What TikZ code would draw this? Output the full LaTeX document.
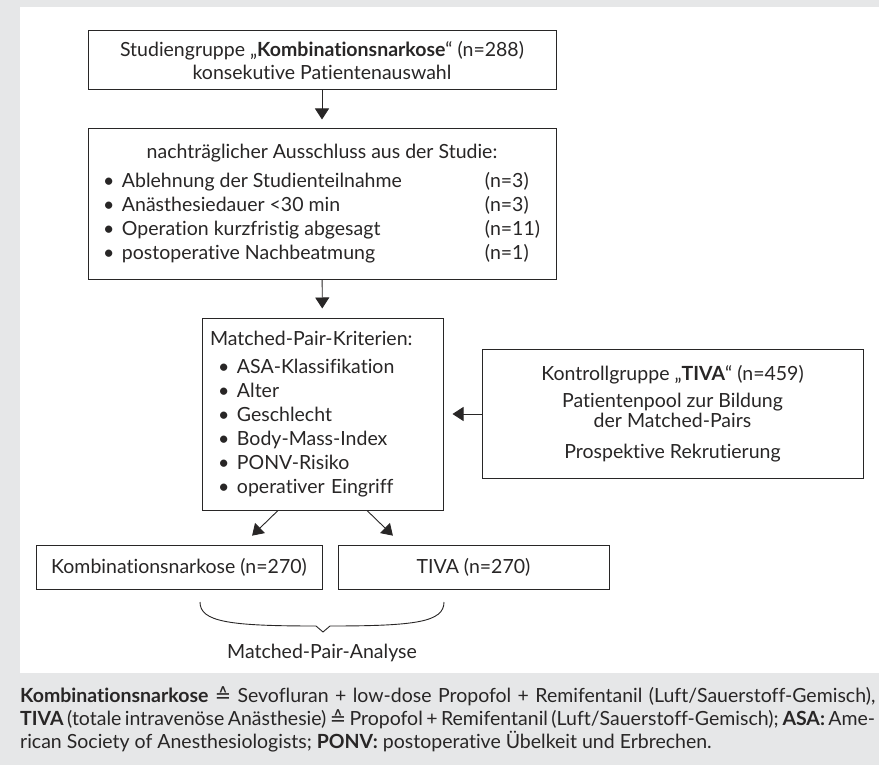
\documentclass[tikz,border=0pt]{standalone}
\usepackage{fontspec}
\setmainfont{Lato}[Ligatures={NoCommon,NoDiscretionary}]
\newfontfamily\symfont{DejaVu Sans}
\usetikzlibrary{arrows.meta}

\definecolor{panelgray}{RGB}{230,231,232}
\definecolor{inkgray}{RGB}{40,38,38}

% bullet with fixed width, list lines of fixed width
\newcommand{\bul}{\makebox[19pt][l]{\textbullet}}
\newcommand{\ausitem}[2]{\makebox[438pt][l]{\bul\makebox[363pt][l]{#1}#2}}

\begin{document}
\begin{tikzpicture}
[
    x=1pt, y=-1pt,
    font=\fontsize{19.5}{24}\selectfont,
    every node/.style={text=inkgray},
    box/.style={draw=inkgray, line width=1pt, inner sep=0pt},
    arr/.style={draw=inkgray, line width=0.9pt, -{Triangle[length=11pt,width=14pt]}, shorten >=9pt},
]
\useasboundingbox (0,0) rectangle (879,765);
\fill[panelgray] (0,0) rectangle (879,765);
\fill[white] (20,7) rectangle (879,673);

% boxes
\node[box, minimum width=468pt, minimum height=59pt, align=center] (studie) at (322,60.5)
    {Studiengruppe „\textbf{Kombinationsnarkose}“ (n=288)\\[-1pt]konsekutive Patientenauswahl};
\node[box, minimum width=468pt, minimum height=150pt, align=center] (ausschluss) at (322,204)
    {nachträglicher Ausschluss aus der Studie:\\[5pt]
     \ausitem{Ablehnung der Studienteilnahme}{(n=3)}\\
     \ausitem{Anästhesiedauer <30 min}{(n=3)}\\
     \ausitem{Operation kurzfristig abgesagt}{(n=11)}\\
     \ausitem{postoperative Nachbeatmung}{(n=1)}};
\node[box, minimum width=241pt, minimum height=192pt, text width=225pt, inner xsep=8pt, align=left] (kriterien) at (322.5,414)
    {Matched-Pair-Kriterien:\\[4pt]
     \hspace*{8pt}\bul ASA-Klassifikation\\
     \hspace*{8pt}\bul Alter\\
     \hspace*{8pt}\bul Geschlecht\\
     \hspace*{8pt}\bul Body-Mass-Index\\
     \hspace*{8pt}\bul PONV-Risiko\\
     \hspace*{8pt}\bul operativer Eingriff};
\node[box, minimum width=381pt, minimum height=129pt, align=center] (kontrolle) at (672.5,414)
    {Kontrollgruppe „\textbf{TIVA}“ (n=459)\\[3pt]
     Patientenpool zur Bildung\\[-4pt]
     der Matched-Pairs\\[7pt]
     Prospektive Rekrutierung};
\node[box, minimum width=286pt, minimum height=44pt] (kombi) at (179,567) {Kombinationsnarkose (n=270)};
\node[box, minimum width=271pt, minimum height=44pt] (tiva) at (473.5,567) {TIVA (n=270)};

% connectors
\draw[arr] (studie) -- (ausschluss);
\draw[arr] (ausschluss) -- (kriterien);
\draw[arr] (kontrolle) -- (kriterien);
\draw[arr, shorten >=12.7pt] ([xshift=-44.5pt]kriterien.south) -- ([xshift=64pt]kombi.north);
\draw[arr, shorten >=12.7pt] ([xshift=44.5pt]kriterien.south) -- ([xshift=-71.5pt]tiva.north);

% brace
\draw[draw=inkgray, line width=0.9pt] (200,602) .. controls (200,622) and (230,626) .. (316,626)
    -- (323,632) -- (330,626) .. controls (416,626) and (444,622) .. (444,602);
\node (analyse) at (322,653) {Matched-Pair-Analyse};

% legend
\node[anchor=base west, inner sep=0pt, font=\fontsize{19.5}{23}\selectfont] (legende) at (20,702)
    {\parbox[t]{855pt}{\textbf{Kombinationsnarkose} {\symfont ≙} Sevofluran + low-dose Propofol + Remifentanil (Luft/Sauerstoff-Gemisch),\linebreak
     \textbf{TIVA} (totale intravenöse Anästhesie) {\symfont ≙} Propofol + Remifentanil (Luft/Sauerstoff-Gemisch); \textbf{ASA:} Ame-\linebreak
     rican Society of Anesthesiologists; \textbf{PONV:} postoperative Übelkeit und Erbrechen.}};
\end{tikzpicture}
\end{document}
